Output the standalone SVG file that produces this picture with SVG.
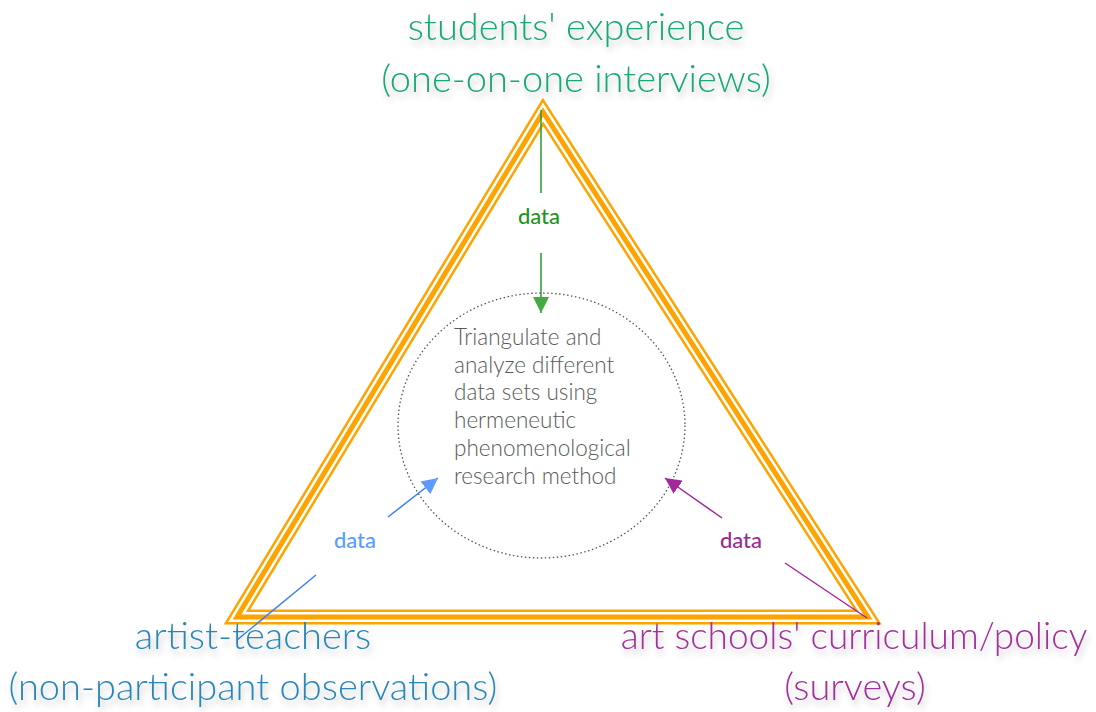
<svg xmlns="http://www.w3.org/2000/svg" width="1096" height="712" viewBox="0 0 1096 712">
<defs>
<filter id="sh" x="-10%" y="-30%" width="120%" height="180%">
<feDropShadow dx="2" dy="5" stdDeviation="3" flood-color="#000" flood-opacity="0.22"/>
</filter>
<marker id="ag" viewBox="0 0 10 10" refX="10" refY="5" markerWidth="16" markerHeight="16" markerUnits="userSpaceOnUse" orient="auto"><path d="M0,0 L10,5 L0,10 Z" fill="#44aa44"/></marker>
<marker id="ab" viewBox="0 0 10 10" refX="10" refY="5" markerWidth="16" markerHeight="16" markerUnits="userSpaceOnUse" orient="auto"><path d="M0,0 L10,5 L0,10 Z" fill="#5c9cff"/></marker>
<marker id="ap" viewBox="0 0 10 10" refX="10" refY="5" markerWidth="16" markerHeight="16" markerUnits="userSpaceOnUse" orient="auto"><path d="M0,0 L10,5 L0,10 Z" fill="#a3289a"/></marker>
</defs>
<style>
.lbl{font-family:"Lato","Open Sans",sans-serif;font-weight:300;font-size:38px;text-anchor:middle;filter:url(#sh)}
.data{font-family:"Lato","Open Sans",sans-serif;font-weight:500;font-size:22px;text-anchor:middle}
.body{font-family:"Lato","Open Sans",sans-serif;font-weight:300;font-size:22.5px;fill:#5a5a5a}
</style>
<rect width="1096" height="712" fill="#fff"/>
<g id="triangle">
<polygon points="543,112 237,617 868,617" fill="none" stroke="#ffa300" stroke-width="15" stroke-linejoin="miter"/>
<polygon points="543,112 237,617 868,617" fill="none" stroke="#fff" stroke-width="10" stroke-linejoin="miter"/>
<polygon points="543,112 237,617 868,617" fill="none" stroke="#ffa300" stroke-width="5" stroke-linejoin="miter"/>
</g>
<g id="center">
<ellipse cx="541.5" cy="425.5" rx="143.5" ry="132.5" fill="none" stroke="#555" stroke-width="1.3" stroke-dasharray="1.5 2.5"/>
<text class="body" x="454"><tspan x="454" y="345">Triangulate and</tspan><tspan x="454" y="373">analyze different</tspan><tspan x="454" y="400">data sets using</tspan><tspan x="454" y="428">hermeneutic</tspan><tspan x="454" y="456">phenomenological</tspan><tspan x="454" y="484">research method</tspan></text>
</g>
<g id="connectors">
<line x1="541" y1="110" x2="541" y2="193" stroke="#2a9a2a" stroke-width="1.5"/>
<line x1="541" y1="253" x2="541" y2="313" stroke="#2a9a2a" stroke-width="1.5" marker-end="url(#ag)"/>
<line x1="316" y1="575" x2="237" y2="640" stroke="#3a80f0" stroke-width="1.5"/>
<line x1="388" y1="517" x2="438" y2="478" stroke="#3a80f0" stroke-width="1.5" marker-end="url(#ab)"/>
<line x1="785" y1="563" x2="867" y2="618" stroke="#a3289a" stroke-width="1.5"/>
<line x1="722" y1="518" x2="665" y2="478" stroke="#a3289a" stroke-width="1.5" marker-end="url(#ap)"/>
</g>
<g id="data-labels">
<text class="data" x="539" y="224" fill="#1f931f">data</text>
<text class="data" x="355" y="548" fill="#5c9cff">data</text>
<text class="data" x="741" y="548" fill="#9b2a8f">data</text>
</g>
<g id="students">
<text class="lbl" x="576" y="40" fill="#19a877">students' experience</text>
<text class="lbl" x="576" y="92" fill="#19a877">(one-on-one interviews)</text>
</g>
<g id="artist-teachers">
<text class="lbl" x="253" y="649" fill="#2a86b8">artist-teachers</text>
<text class="lbl" x="253" y="700" fill="#2a86b8">(non-participant observations)</text>
</g>
<g id="art-schools">
<text class="lbl" x="854" y="649" fill="#a0309a" style="font-size:37px">art schools' curriculum/policy</text>
<text class="lbl" x="855" y="700" fill="#a0309a">(surveys)</text>
</g>
</svg>
